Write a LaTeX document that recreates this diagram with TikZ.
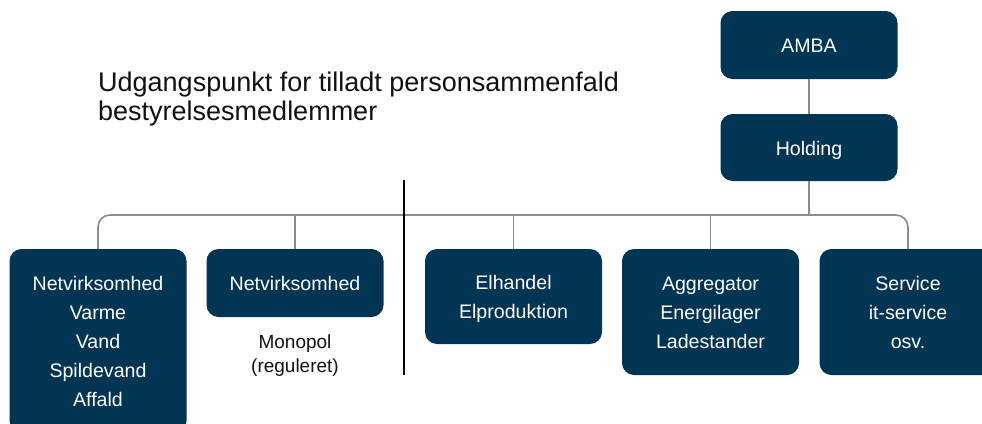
\documentclass[tikz,border=0pt]{standalone}
\usepackage{fontspec}
\setmainfont{Liberation Sans}
\definecolor{navy}{HTML}{023453}
\definecolor{conngray}{HTML}{8C8C8C}
\definecolor{titleink}{HTML}{111111}
\newcommand\bxstrut{\rule[-6.7pt]{0pt}{29pt}}
\tikzset{
  orgbox/.style={draw=none, fill=navy, rounded corners=12pt, text=white,
    minimum width=177pt, inner sep=0pt, align=center,
    font=\fontsize{19.6}{29}\selectfont},
  conn/.style={draw=conngray, line width=1.6pt},
  divider/.style={draw=black, line width=1.8pt},
  note/.style={align=center, inner sep=0pt, text=titleink,
    font=\fontsize{19}{24}\selectfont},
  heading/.style={align=left, inner sep=0pt, text=titleink,
    font=\fontsize{27}{29}\selectfont}
}
\begin{document}
\begin{tikzpicture}[x=1pt,y=-1pt]
\useasboundingbox (0,0) rectangle (982,423);
% top boxes
\node[orgbox, minimum height=68pt] (amba) at (809,45) {\bxstrut AMBA};
\node[orgbox, minimum height=67pt] (hold) at (809,147.5) {\bxstrut Holding};
% bottom boxes
\node[orgbox, minimum height=184pt] (b1) at (98,341) {\bxstrut Netvirksomhed\\\bxstrut Varme\\\bxstrut Vand\\\bxstrut Spildevand\\\bxstrut Affald};
\node[orgbox, minimum height=68pt] (b2) at (295,283) {\bxstrut Netvirksomhed};
\node[orgbox, minimum height=95pt] (elh) at (513.5,296.5) {\bxstrut Elhandel\\\bxstrut Elproduktion};
\node[orgbox, minimum height=126pt] (agg) at (710.5,312) {\bxstrut Aggregator\\\bxstrut Energilager\\\bxstrut Ladestander};
\node[orgbox, minimum height=126pt] (svc) at (908,312) {\bxstrut Service\\\bxstrut it-service\\\bxstrut osv.};
% title and note
\node[heading, anchor=base west] (title) at (98,120.5) {Udgangspunkt for tilladt personsammenfald\\bestyrelsesmedlemmer};
\node[note, anchor=base] (mono) at (295,372) {Monopol\\(reguleret)};
% connectors
\coordinate (busL) at (98,215);
\coordinate (busR) at (908,215);
\draw[conn] (amba.south) -- (hold.north);
\draw[conn] (hold.south) -- (hold.south |- busL);
\draw[conn, rounded corners=12pt] (b1.north) -- (busL) -- (busR) -- (svc.north);
\draw[conn] (b2.north) -- (b2.north |- busL);
\draw[conn] (elh.north) -- (elh.north |- busL);
\draw[conn] (agg.north) -- (agg.north |- busL);
% divider
\coordinate (divT) at (404,180);
\coordinate (divB) at (404,375);
\draw[divider] (divT) -- (divB);
\end{tikzpicture}
\end{document}
